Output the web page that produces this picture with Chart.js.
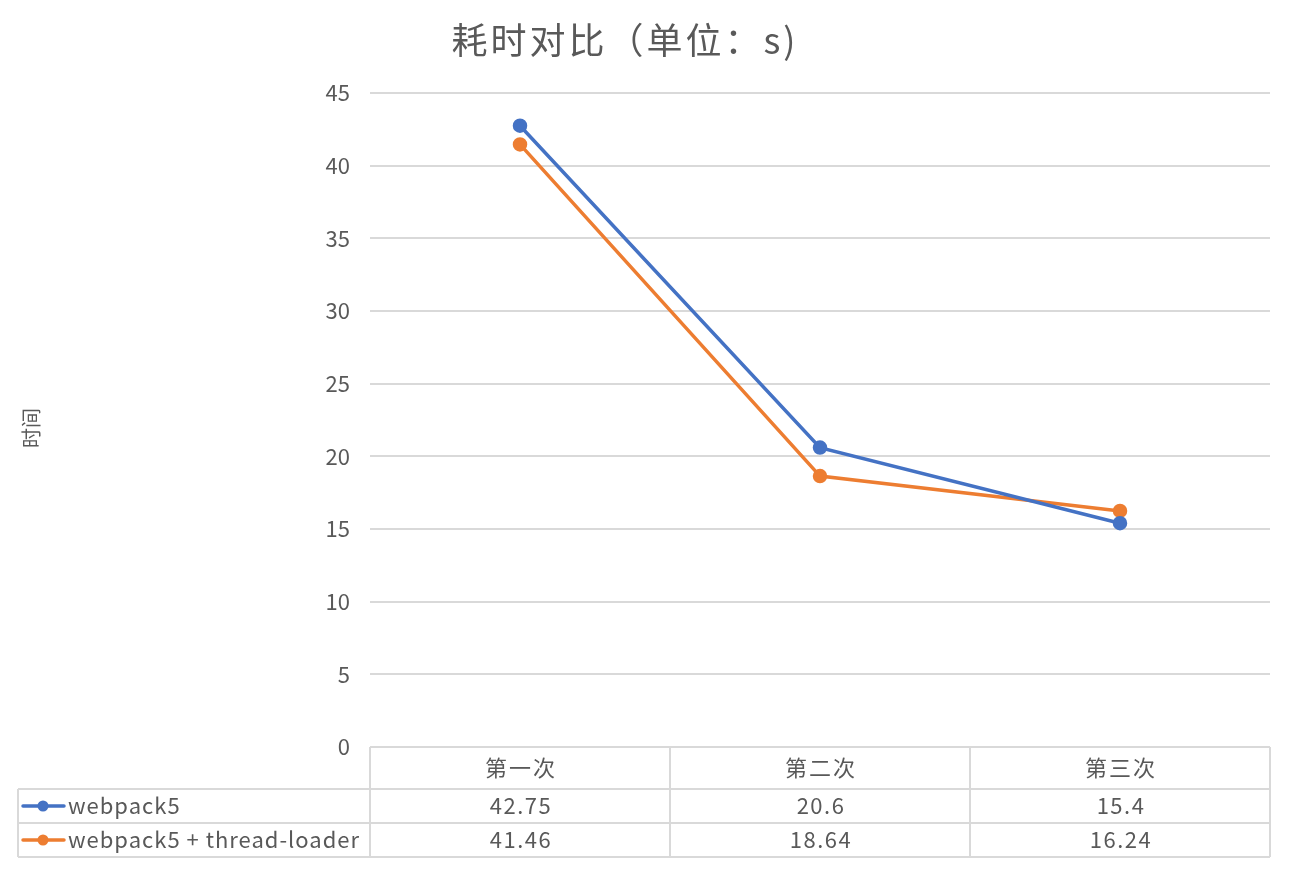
<!DOCTYPE html>
<html>
<head>
<meta charset="utf-8">
<script src="https://cdn.jsdelivr.net/npm/chart.js@4"></script>
<style>
  body { margin: 0; background: #fff; }
  #wrap { width: 1294px; height: 874px; }
</style>
</head>
<body>
<div id="wrap"><canvas id="chartContainer" width="1294" height="874"></canvas></div>
<script>
// chart data
var title = "耗时对比（单位：s)";
var yTitle = "时间";
var categories = ["第一次", "第二次", "第三次"];
var seriesNames = ["webpack5", "webpack5 + thread-loader"];
var webpack5 = [42.75, 20.6, 15.4];
var threadLoader = [41.46, 18.64, 16.24];
var tableLabels = [
  ["42.75", "20.6", "15.4"],
  ["41.46", "18.64", "16.24"]
];
var colors = ["#4472C4", "#ED7D31"];

var FONT = '"Noto Sans CJK SC", "Liberation Sans", sans-serif';
var TEXT = "#595959";
var LINE = "#d9d9d9";

// title, y title and data table drawn around the plot
var tablePlugin = {
  id: 'tablePlugin',
  afterDraw: function (chart) {
    var ctx = chart.ctx;
    var area = chart.chartArea;
    var x = chart.scales.x;
    var top = area.bottom;
    var rowH = [42, 34, 34];
    var r1 = top + rowH[0], r2 = r1 + rowH[1], r3 = r2 + rowH[2];
    var leftX = 18;
    var step = x.getPixelForValue(1) - x.getPixelForValue(0);

    ctx.save();
    // title
    ctx.fillStyle = TEXT;
    ctx.font = '36px ' + FONT;
    ctx.letterSpacing = '3px';
    ctx.textAlign = 'center';
    ctx.textBaseline = 'middle';
    ctx.fillText(title, 625, 40);

    // y axis title
    ctx.save();
    ctx.font = '20px ' + FONT;
    ctx.letterSpacing = '0px';
    ctx.translate(31, 428);
    ctx.rotate(-Math.PI / 2);
    ctx.fillText(yTitle, 0, 0);
    ctx.restore();

    // table lines
    ctx.strokeStyle = LINE;
    ctx.lineWidth = 2;
    ctx.beginPath();
    ctx.moveTo(area.left, top); ctx.lineTo(area.right, top);
    [r1, r2, r3].forEach(function (y) {
      ctx.moveTo(leftX, y); ctx.lineTo(area.right, y);
    });
    ctx.moveTo(leftX, r1); ctx.lineTo(leftX, r3);
    for (var i = 0; i <= categories.length; i++) {
      var vx = x.getPixelForValue(i) - step / 2;
      ctx.moveTo(vx, top); ctx.lineTo(vx, r3);
    }
    ctx.stroke();

    // header + values
    ctx.font = '22px ' + FONT;
    ctx.fillStyle = TEXT;
    categories.forEach(function (c, i) {
      var cx = x.getPixelForValue(i);
      ctx.letterSpacing = '2px';
      ctx.fillText(c, cx + 1, (top + r1) / 2);
      ctx.letterSpacing = '1.5px';
      ctx.fillText(tableLabels[0][i], cx + 1, (r1 + r2) / 2);
      ctx.fillText(tableLabels[1][i], cx + 1, (r2 + r3) / 2);
    });

    // legend keys
    ctx.letterSpacing = '1px';
    [[r1, r2], [r2, r3]].forEach(function (r, k) {
      var cy = (r[0] + r[1]) / 2;
      ctx.strokeStyle = colors[k];
      ctx.lineWidth = 3.5;
      ctx.lineCap = 'round';
      ctx.beginPath();
      ctx.moveTo(23, cy); ctx.lineTo(64, cy);
      ctx.stroke();
      ctx.fillStyle = colors[k];
      ctx.beginPath();
      ctx.arc(43, cy, 5.5, 0, Math.PI * 2);
      ctx.fill();
      ctx.fillStyle = TEXT;
      ctx.textAlign = 'left';
      ctx.fillText(seriesNames[k], 68, cy);
    });
    ctx.restore();
  }
};

window.onload = function () {
  var ctx = document.getElementById('chartContainer').getContext('2d');
  new Chart(ctx, {
    type: 'line',
    data: {
      labels: categories,
      datasets: [
        {
          label: seriesNames[0],
          data: webpack5,
          borderColor: colors[0],
          backgroundColor: colors[0],
          borderWidth: 3.5,
          pointRadius: 5.5,
          pointHoverRadius: 5.5
        },
        {
          label: seriesNames[1],
          data: threadLoader,
          borderColor: colors[1],
          backgroundColor: colors[1],
          borderWidth: 3.5,
          pointRadius: 5.5,
          pointHoverRadius: 5.5
        }
      ]
    },
    options: {
      responsive: false,
      animation: false,
      layout: { padding: { top: 93, right: 24, bottom: 127, left: 0 } },
      plugins: {
        legend: { display: false },
        title: { display: false },
        tooltip: { enabled: false }
      },
      scales: {
        x: {
          display: false,
          offset: true
        },
        y: {
          min: 0,
          max: 45,
          ticks: {
            stepSize: 5,
            padding: 20,
            color: TEXT,
            font: { size: 22, family: FONT }
          },
          grid: { color: LINE, lineWidth: 2, drawTicks: false },
          border: { display: false },
          afterFit: function (scale) { scale.width = 370; }
        }
      }
    },
    plugins: [tablePlugin]
  });
};
</script>
</body>
</html>
